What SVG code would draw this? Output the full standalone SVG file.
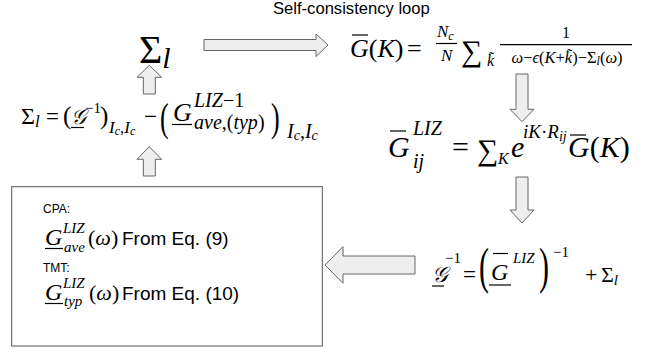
<svg xmlns="http://www.w3.org/2000/svg" width="657" height="352" viewBox="0 0 657 352">
<defs>
<style>
.sans{font-family:"Liberation Sans",Arial,sans-serif;fill:#000}
.m{font-family:"Liberation Serif","DejaVu Serif",serif;fill:#000}
.i{font-style:italic}
.arrow{fill:#eeeeee;stroke:#666666;stroke-width:1}
.bar{stroke:#000;stroke-width:1.2}
.box{fill:#ffffff;stroke:#555555;stroke-width:1}
</style>
</defs>
<text class="sans" x="273" y="14" font-size="16.6">Self-consistency loop</text>
<g id="connectors">
<polygon class="arrow" points="204,39.5 316,39.5 316,34 328,45 316,56.5 316,50.5 204,50.5"/>
<polygon class="arrow" points="143.3,94 143.3,77.3 137,77.3 149.3,65.3 161.7,77.3 155.3,77.3 155.3,94"/>
<polygon class="arrow" points="143.3,176 143.3,159.3 137,159.3 149.3,146.7 161.7,159.3 155.3,159.3 155.3,176"/>
<polygon class="arrow" points="516,74 528,74 528,109.3 534,109.3 522,121.7 510,109.3 516,109.3"/>
<polygon class="arrow" points="516,177 528,177 528,210 534,210 522,223 510,210 516,210"/>
<polygon class="arrow" points="415,256 343,256 343,246.7 325,265 343,283.3 343,274 415,274"/>
</g>
<g id="sigma-l">
<text class="m" x="139" y="63" font-size="40">Σ<tspan class="i" font-size="30" dy="5">l</tspan></text>
</g>
<g id="gbar-k">
<text class="m" x="350" y="57" font-size="26"><tspan class="i">G</tspan>(<tspan class="i">K</tspan>)</text>
<line class="bar" x1="352" y1="35" x2="368" y2="35"/>
<text class="m" x="407" y="57" font-size="26">=</text>
<text class="m i" x="437" y="37" font-size="17">N<tspan font-size="12" dy="3">c</tspan></text>
<line class="bar" x1="436" y1="43.5" x2="457" y2="43.5" stroke-width="0.8"/>
<text class="m i" x="441" y="61" font-size="17">N</text>
<text class="m" x="461" y="61" font-size="30">∑</text>
<text class="m i" x="487" y="66" font-size="16">k̃</text>
<text class="m" x="566" y="38" font-size="16" text-anchor="middle">1</text>
<line class="bar" x1="500" y1="44.6" x2="632" y2="44.6" stroke-width="0.8"/>
<text class="m" x="567" y="63" font-size="16.5" text-anchor="middle"><tspan class="i">ω</tspan>−<tspan class="i">ϵ</tspan>(<tspan class="i">K</tspan>+<tspan class="i">k̃</tspan>)−Σ<tspan class="i" font-size="12" dy="2">l</tspan><tspan dy="-2">(</tspan><tspan class="i">ω</tspan>)</text>
</g>
<g id="sigma-eq">
<text class="m" x="21" y="124" font-size="24">Σ<tspan class="i" font-size="17" dy="3">l</tspan></text>
<text class="m" x="46" y="124" font-size="23">=</text>
<text class="m" x="63" y="124" font-size="25">(</text>
<text class="m i" x="71" y="124" font-size="21">𝒢</text>
<line class="bar" x1="71" y1="127.5" x2="84" y2="127.5"/>
<text class="m" x="85" y="113" font-size="15">−1</text>
<text class="m" x="100" y="124" font-size="25">)</text>
<text class="m i" x="109" y="133" font-size="17">I<tspan font-size="12" dy="2">c</tspan><tspan font-style="normal" dy="-2">,</tspan>I<tspan font-size="12" dy="2">c</tspan></text>
<text class="m" x="144" y="124" font-size="23">−</text>
<text class="m" transform="translate(160,131) scale(0.65,1)" font-size="40">(</text>
<text class="m i" x="173" y="121" font-size="26">G</text>
<line class="bar" x1="172" y1="124.5" x2="192" y2="124.5"/>
<text class="m i" x="194" y="107" font-size="20">LIZ<tspan font-style="normal">−1</tspan></text>
<text class="m i" x="194" y="129" font-size="20">ave<tspan font-style="normal">,(</tspan>typ<tspan font-style="normal">)</tspan></text>
<text class="m" transform="translate(271,131) scale(0.65,1)" font-size="40">)</text>
<text class="m i" x="287" y="138" font-size="20">I<tspan font-size="14" dy="2">c</tspan><tspan font-style="normal" dy="-2">,</tspan>I<tspan font-size="14" dy="2">c</tspan></text>
</g>
<g id="gliz-ij">
<text class="m i" x="388" y="157" font-size="30">G</text>
<line class="bar" x1="390" y1="131" x2="406" y2="131"/>
<text class="m i" x="413" y="135" font-size="20">LIZ</text>
<text class="m i" x="413" y="168" font-size="20">ij</text>
<text class="m" x="452" y="157" font-size="30">=</text>
<text class="m" x="477" y="160" font-size="30">∑</text>
<text class="m i" x="498" y="164" font-size="16">K</text>
<text class="m i" x="511" y="157" font-size="30">e</text>
<text class="m i" x="523" y="138" font-size="19">iK<tspan font-style="normal">·</tspan>R<tspan font-size="14" dy="3">ij</tspan></text>
<text class="m" x="568" y="157" font-size="30"><tspan class="i">G</tspan>(<tspan class="i">K</tspan>)</text>
<line class="bar" x1="570" y1="135" x2="586" y2="135"/>
</g>
<g id="ginv-eq">
<text class="m i" x="432" y="282" font-size="22">𝒢</text>
<line class="bar" x1="432" y1="286" x2="444" y2="286"/>
<text class="m" x="445" y="263" font-size="15">−1</text>
<text class="m" x="463" y="282" font-size="23">=</text>
<text class="m" transform="translate(479,283) scale(0.6,1)" font-size="50">(</text>
<text class="m i" x="491" y="280" font-size="24">G</text>
<line class="bar" x1="493" y1="253.5" x2="508" y2="253.5"/>
<line class="bar" x1="489" y1="285" x2="511" y2="285"/>
<text class="m i" x="513" y="263" font-size="15">LIZ</text>
<text class="m" transform="translate(539,283) scale(0.6,1)" font-size="50">)</text>
<text class="m" x="553" y="257" font-size="15">−1</text>
<text class="m" x="585" y="282" font-size="22">+</text>
<text class="m" x="601" y="282" font-size="22">Σ<tspan class="i" font-size="15" dy="3">l</tspan></text>
</g>
<g id="method-box">
<rect class="box" x="11.7" y="186.7" width="310.6" height="159.3"/>
<text class="sans" x="43" y="212.5" font-size="12">CPA:</text>
<text class="m i" x="45" y="245" font-size="24">G</text>
<line class="bar" x1="45" y1="248.5" x2="63" y2="248.5"/>
<text class="m i" x="63" y="233" font-size="15">LIZ</text>
<text class="m i" x="64" y="252" font-size="15">ave</text>
<text class="m" x="88" y="245" font-size="22">(<tspan class="i">ω</tspan>)</text>
<text class="sans" x="122" y="245" font-size="19">From Eq. (9)</text>
<text class="sans" x="43" y="271.5" font-size="12">TMT:</text>
<text class="m i" x="45" y="300" font-size="24">G</text>
<line class="bar" x1="45" y1="303.5" x2="63" y2="303.5"/>
<text class="m i" x="63" y="288" font-size="15">LIZ</text>
<text class="m i" x="64" y="306" font-size="15">typ</text>
<text class="m" x="89" y="300" font-size="22">(<tspan class="i">ω</tspan>)</text>
<text class="sans" x="122" y="300" font-size="19">From Eq. (10)</text>
</g>
</svg>
